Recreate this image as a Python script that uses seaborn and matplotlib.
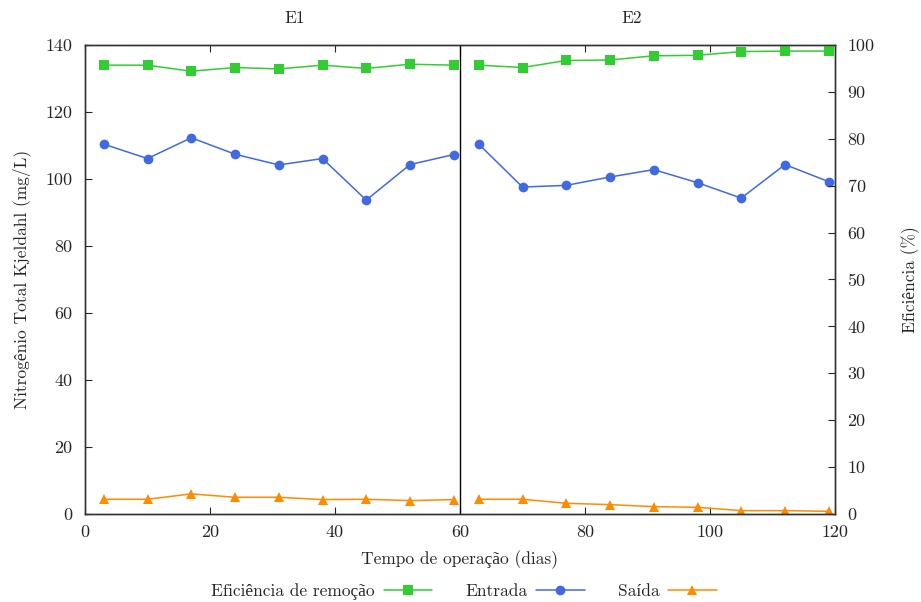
import seaborn as sns
import matplotlib.pyplot as plt
import matplotlib.transforms as mtransforms
import pandas as pd

# dias de operacao (fase E1 e E2)
dias_e1 = [3, 10, 17, 24, 31, 38, 45, 52, 59]
dias_e2 = [63, 70, 77, 84, 91, 98, 105, 112, 119]

# NTK (mg/L)
entrada_e1 = [110.4, 106.1, 112.3, 107.4, 104.2, 106.1, 93.7, 104.3, 107.3]
entrada_e2 = [110.4, 97.6, 98.1, 100.6, 102.8, 98.9, 94.3, 104.3, 99.2]
saida_e1 = [4.4, 4.4, 6.0, 5.0, 5.0, 4.3, 4.4, 4.0, 4.3]
saida_e2 = [4.4, 4.4, 3.2, 2.8, 2.2, 2.0, 1.0, 1.0, 0.8]

# eficiencia de remocao (%)
efic_e1 = [95.7, 95.7, 94.4, 95.2, 94.9, 95.7, 95.0, 95.9, 95.7]
efic_e2 = [95.7, 95.2, 96.7, 96.8, 97.7, 97.8, 98.6, 98.7, 98.7]

df = pd.DataFrame({
    'dia': dias_e1 + dias_e2,
    'fase': ['E1'] * len(dias_e1) + ['E2'] * len(dias_e2),
    'entrada': entrada_e1 + entrada_e2,
    'saida': saida_e1 + saida_e2,
    'eficiencia': efic_e1 + efic_e2,
})

sns.set_style('ticks')
plt.rcParams['font.family'] = ['cmr10', 'Liberation Serif']
plt.rcParams['axes.unicode_minus'] = False

verde = '#32cd32'
azul = '#4169e1'
laranja = '#ff8c00'
fs = 12.5

fig = plt.figure(figsize=(9.21, 6.02), dpi=100)
ax = fig.add_axes([85 / 921, 88 / 602, 750 / 921, 469 / 602])
ax2 = ax.twinx()

sns.lineplot(data=df, x='dia', y='eficiencia', units='fase', estimator=None,
             color=verde, marker='s', markersize=7, markeredgewidth=0,
             linewidth=1.1, ax=ax2, label='Eficiência de remoção', legend=False)
sns.lineplot(data=df, x='dia', y='entrada', units='fase', estimator=None,
             color=azul, marker='o', markersize=7, markeredgewidth=0,
             linewidth=1.1, ax=ax, label='Entrada', legend=False)
sns.lineplot(data=df, x='dia', y='saida', units='fase', estimator=None,
             color=laranja, marker='^', markersize=7, markeredgewidth=0,
             linewidth=1.1, ax=ax, label='Saída', legend=False)

ax.axvline(60, color='black', linewidth=1)

ax.set_xlim(0, 120)
ax.set_ylim(0, 140)
ax2.set_ylim(0, 100)
ax.set_xticks(range(0, 121, 20))
ax.set_yticks(range(0, 141, 20))
ax2.set_yticks(range(0, 101, 10))

ax.tick_params(direction='in', top=True, labelsize=13, length=5, pad=9)
ax2.tick_params(direction='in', labelsize=13, length=5, pad=9)
ax.tick_params(axis='x', pad=8)
for a in (ax, ax2):
    for s in a.spines.values():
        s.set_color('#333333')
        s.set_linewidth(1)

ax.set_xlabel('Tempo de operação (dias)', fontsize=fs, labelpad=7)
ax.set_ylabel('Nitrogênio Total Kjeldahl (mg/L)', fontsize=fs, labelpad=10)
ax2.set_ylabel('Eficiência (%)', fontsize=fs, labelpad=19)

trans = mtransforms.blended_transform_factory(ax.transData, fig.transFigure)
fig.text(33.5, 1 - 18 / 602, 'E1', transform=trans, ha='center', va='center', fontsize=fs)
fig.text(87.5, 1 - 18 / 602, 'E2', transform=trans, ha='center', va='center', fontsize=fs)

# uma entrada de legenda por serie (units gera duas linhas cada)
handles, labels = [], []
for a in (ax2, ax):
    for h, l in zip(*a.get_legend_handles_labels()):
        if l not in labels:
            handles.append(h)
            labels.append(l)
fig.legend(handles, labels, loc='center', bbox_to_anchor=(464 / 921, 1 - 592 / 602),
           ncol=3, frameon=False, markerfirst=False, fontsize=fs,
           handlelength=2.8, columnspacing=1.9, handletextpad=0.5)

fig.savefig('out.png', dpi=100)
